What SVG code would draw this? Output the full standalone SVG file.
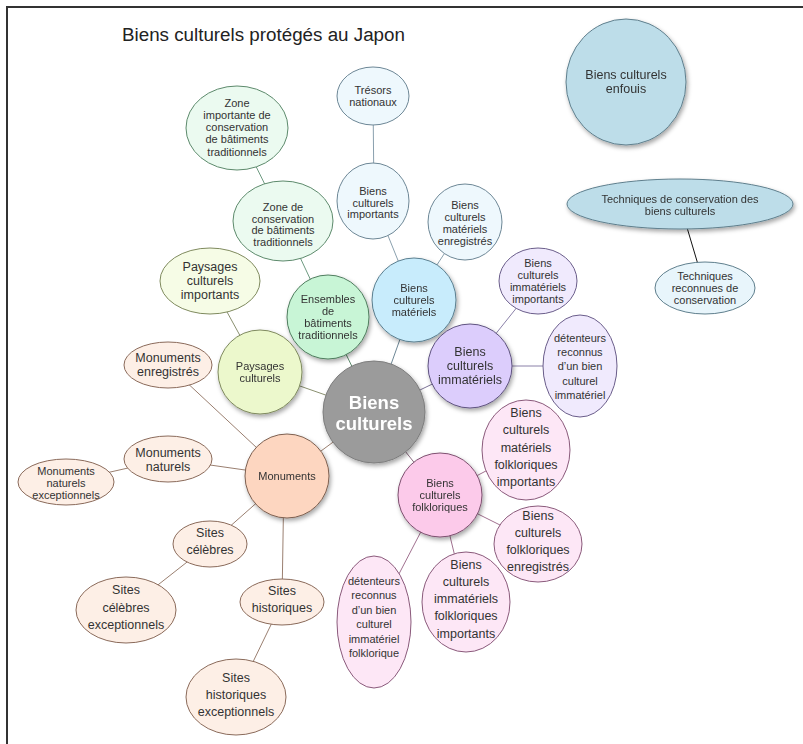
<svg xmlns="http://www.w3.org/2000/svg" width="803" height="744" viewBox="0 0 803 744">
<defs>
<filter id="sh" x="-20%" y="-20%" width="150%" height="150%">
<feDropShadow dx="1.5" dy="2.5" stdDeviation="2" flood-color="#000" flood-opacity="0.35"/>
</filter>
</defs>
<style>
text{font-family:"Liberation Sans",Arial,Helvetica,sans-serif;fill:#333;text-anchor:middle;font-size:11px}
.t{font-size:18.8px;text-anchor:start;fill:#222}
.m{font-size:12.5px}
.c{font-size:18.5px;font-weight:bold;fill:#fff}
.blue{fill:#eef8fd;stroke:#6d8796}
.blueP{fill:#c8ecfc;stroke:#5a7f90}
.green{fill:#ebfaf0;stroke:#5d8a6c}
.greenP{fill:#c8f5d6;stroke:#4f7d5e}
.lime{fill:#f6fce6;stroke:#7f8a5e}
.limeP{fill:#ecf8cc;stroke:#7f8a5e}
.peach{fill:#fdefe6;stroke:#8a6a5a}
.peachP{fill:#fdd6c0;stroke:#7e6050}
.purp{fill:#f0eafd;stroke:#6a5d8a}
.purpP{fill:#dccdfc;stroke:#5f5380}
.pink{fill:#fde7f6;stroke:#8a5a7b}
.pinkP{fill:#fccaea;stroke:#7e5070}
.sea{fill:#bddde9;stroke:#5f7f8d}
.seaL{fill:#e8f5fb;stroke:#5f7f8d}
.gray{fill:#9b9b9b;stroke:#7d7d7d}
.sd{filter:url(#sh)}
#connectors line{stroke-width:1}
</style>
<rect width="803" height="744" fill="#fff"/>
<path d="M7,744 V7 H803" fill="none" stroke="#333" stroke-width="2"/>
<text class="t" x="122" y="41">Biens culturels protégés au Japon</text>

<g id="connectors">
<line x1="373" y1="96" x2="374" y2="201" stroke="#8aa0ae"/>
<line x1="374" y1="201" x2="414" y2="300" stroke="#8aa0ae"/>
<line x1="465" y1="222" x2="414" y2="300" stroke="#8aa0ae"/>
<line x1="414" y1="300" x2="374" y2="412" stroke="#6d8796"/>
<line x1="237" y1="128" x2="283" y2="221" stroke="#6d9a80"/>
<line x1="283" y1="221" x2="328" y2="317" stroke="#6d9a80"/>
<line x1="328" y1="317" x2="374" y2="412" stroke="#5d8a6c"/>
<line x1="210" y1="281" x2="260" y2="372" stroke="#8a9070"/>
<line x1="260" y1="372" x2="374" y2="412" stroke="#8a9070"/>
<line x1="168" y1="365" x2="287" y2="476" stroke="#9a7f70"/>
<line x1="168" y1="459" x2="287" y2="476" stroke="#9a7f70"/>
<line x1="66" y1="482" x2="168" y2="459" stroke="#9a7f70"/>
<line x1="287" y1="476" x2="374" y2="412" stroke="#9a7f70"/>
<line x1="210" y1="544" x2="287" y2="476" stroke="#9a7f70"/>
<line x1="126" y1="610" x2="210" y2="544" stroke="#9a7f70"/>
<line x1="284" y1="476" x2="282" y2="602" stroke="#9a7f70"/>
<line x1="236" y1="697" x2="282" y2="602" stroke="#9a7f70"/>
<line x1="470" y1="366" x2="374" y2="412" stroke="#7d7398"/>
<line x1="538" y1="281" x2="470" y2="366" stroke="#8a80a8"/>
<line x1="470" y1="366" x2="580" y2="366" stroke="#8a80a8"/>
<line x1="440" y1="495" x2="374" y2="412" stroke="#8a6a80"/>
<line x1="440" y1="495" x2="526" y2="450" stroke="#a0708f"/>
<line x1="440" y1="495" x2="538" y2="544" stroke="#a0708f"/>
<line x1="440" y1="495" x2="466" y2="602" stroke="#a0708f"/>
<line x1="440" y1="495" x2="374" y2="622" stroke="#a0708f"/>
<line x1="680" y1="204" x2="705" y2="288" stroke="#111"/>
</g>

<g id="n-tresors"><ellipse class="blue" cx="373" cy="96" rx="36" ry="29"/><text x="373" y="94">Trésors</text><text x="373" y="106">nationaux</text></g>
<g id="n-importants"><ellipse class="blue" cx="373" cy="201" rx="36" ry="38"/><text x="373" y="195">Biens</text><text x="373" y="207">culturels</text><text x="373" y="218">importants</text></g>
<g id="n-mat-enreg"><ellipse class="blue" cx="465" cy="222" rx="37" ry="38"/><text x="465" y="209">Biens</text><text x="465" y="221">culturels</text><text x="465" y="233">matériels</text><text x="465" y="245">enregistrés</text></g>
<g id="n-materiels" class="sd"><circle class="blueP" cx="414" cy="300" r="42"/><text x="414" y="292">Biens</text><text x="414" y="304">culturels</text><text x="414" y="316">matériels</text></g>

<g id="n-zone-imp"><ellipse class="green" cx="237" cy="128" rx="51" ry="42"/><text x="237" y="107">Zone</text><text x="237" y="119">importante de</text><text x="237" y="131">conservation</text><text x="237" y="143">de bâtiments</text><text x="237" y="156">traditionnels</text></g>
<g id="n-zone"><ellipse class="green" cx="283" cy="221" rx="50" ry="40"/><text x="283" y="211">Zone de</text><text x="283" y="223">conservation</text><text x="283" y="234">de bâtiments</text><text x="283" y="246">traditionnels</text></g>
<g id="n-ensembles" class="sd"><ellipse class="greenP" cx="328" cy="317" rx="41" ry="42"/><text x="328" y="303">Ensembles</text><text x="328" y="315">de</text><text x="328" y="327">bâtiments</text><text x="328" y="339">traditionnels</text></g>

<g id="n-pays-imp"><ellipse class="lime" cx="210" cy="281" rx="50" ry="33"/><text class="m" x="210" y="271">Paysages</text><text class="m" x="210" y="285">culturels</text><text class="m" x="210" y="299">importants</text></g>
<g id="n-paysages" class="sd"><circle class="limeP" cx="260" cy="372" r="42"/><text x="260" y="370">Paysages</text><text x="260" y="382">culturels</text></g>

<g id="n-center" class="sd"><circle class="gray" cx="374" cy="412" r="51"/><text class="c" x="374" y="408.5">Biens</text><text class="c" x="374" y="429.5">culturels</text></g>

<g id="n-mon-enreg"><ellipse class="peach" cx="168" cy="365" rx="44" ry="23"/><text class="m" x="168" y="362">Monuments</text><text class="m" x="168" y="376">enregistrés</text></g>
<g id="n-mon-nat"><ellipse class="peach" cx="168" cy="459" rx="44" ry="23"/><text class="m" x="168" y="457">Monuments</text><text class="m" x="168" y="471">naturels</text></g>
<g id="n-mon-nat-exc"><ellipse class="peach" cx="66" cy="482" rx="48" ry="23"/><text x="66" y="475">Monuments</text><text x="66" y="487">naturels</text><text x="66" y="499">exceptionnels</text></g>
<g id="n-monuments" class="sd"><circle class="peachP" cx="287" cy="476" r="42"/><text x="287" y="480">Monuments</text></g>
<g id="n-sites-cel"><ellipse class="peach" cx="210" cy="544" rx="37" ry="23"/><text class="m" x="210" y="537">Sites</text><text class="m" x="210" y="554">célèbres</text></g>
<g id="n-sites-cel-exc"><ellipse class="peach" cx="126" cy="610" rx="50" ry="33"/><text class="m" x="126" y="594">Sites</text><text class="m" x="126" y="612">célèbres</text><text class="m" x="126" y="629">exceptionnels</text></g>
<g id="n-sites-hist"><ellipse class="peach" cx="282" cy="602" rx="42" ry="23"/><text class="m" x="282" y="595">Sites</text><text class="m" x="282" y="612">historiques</text></g>
<g id="n-sites-hist-exc"><ellipse class="peach" cx="236" cy="697" rx="50" ry="38"/><text class="m" x="236" y="682">Sites</text><text class="m" x="236" y="699">historiques</text><text class="m" x="236" y="716">exceptionnels</text></g>

<g id="n-immateriels" class="sd"><circle class="purpP" cx="470" cy="366" r="42"/><text class="m" x="470" y="356">Biens</text><text class="m" x="470" y="370">culturels</text><text class="m" x="470" y="384">immatériels</text></g>
<g id="n-imm-imp"><ellipse class="purp" cx="538" cy="281" rx="39" ry="33"/><text x="538" y="267">Biens</text><text x="538" y="279">culturels</text><text x="538" y="291">immatériels</text><text x="538" y="303">importants</text></g>
<g id="n-detenteurs"><ellipse class="purp" cx="580" cy="366" rx="37" ry="51"/><text x="580" y="342">détenteurs</text><text x="580" y="356">reconnus</text><text x="580" y="370">d’un bien</text><text x="580" y="385">culturel</text><text x="580" y="399">immatériel</text></g>

<g id="n-folkloriques" class="sd"><circle class="pinkP" cx="440" cy="495" r="42"/><text x="440" y="487">Biens</text><text x="440" y="499">culturels</text><text x="440" y="511">folkloriques</text></g>
<g id="n-mat-folk"><ellipse class="pink" cx="526" cy="450" rx="44" ry="50"/><text class="m" x="526" y="417">Biens</text><text class="m" x="526" y="434">culturels</text><text class="m" x="526" y="452">matériels</text><text class="m" x="526" y="469">folkloriques</text><text class="m" x="526" y="486">importants</text></g>
<g id="n-folk-enreg"><ellipse class="pink" cx="538" cy="544" rx="44" ry="38"/><text class="m" x="538" y="520">Biens</text><text class="m" x="538" y="537">culturels</text><text class="m" x="538" y="554">folkloriques</text><text class="m" x="538" y="571">enregistrés</text></g>
<g id="n-imm-folk"><ellipse class="pink" cx="466" cy="602" rx="44" ry="50"/><text class="m" x="466" y="569">Biens</text><text class="m" x="466" y="586">culturels</text><text class="m" x="466" y="603">immatériels</text><text class="m" x="466" y="620">folkloriques</text><text class="m" x="466" y="638">importants</text></g>
<g id="n-det-folk"><ellipse class="pink" cx="374" cy="622" rx="37" ry="66"/><text x="374" y="585">détenteurs</text><text x="374" y="599">reconnus</text><text x="374" y="614">d’un bien</text><text x="374" y="628">culturel</text><text x="374" y="643">immatériel</text><text x="374" y="657">folklorique</text></g>

<g id="n-enfouis" class="sd"><ellipse class="sea" cx="626" cy="82" rx="60" ry="63"/><text class="m" x="626" y="79">Biens culturels</text><text class="m" x="626" y="93">enfouis</text></g>
<g id="n-techniques" class="sd"><ellipse class="sea" cx="680" cy="204" rx="113" ry="25"/><text x="680" y="203">Techniques de conservation des</text><text x="680" y="215">biens culturels</text></g>
<g id="n-tech-rec"><ellipse class="seaL" cx="705" cy="288" rx="50" ry="26"/><text x="705" y="280">Techniques</text><text x="705" y="292">reconnues de</text><text x="705" y="304">conservation</text></g>
</svg>
